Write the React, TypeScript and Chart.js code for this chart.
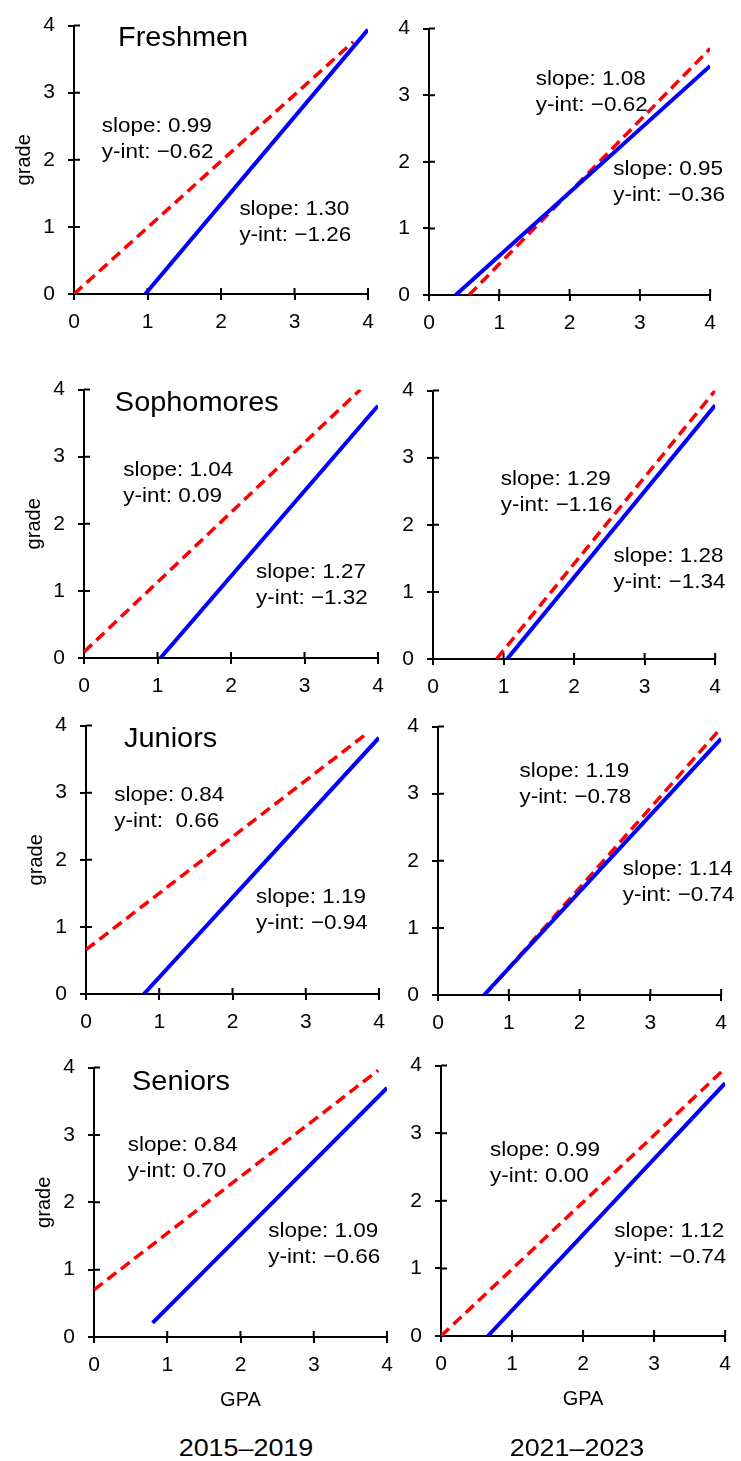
import React, { useEffect, useRef } from "react";
import { Chart, registerables } from "chart.js";

Chart.register(...registerables);

// ---------------- data ----------------
const cohorts = ["Freshmen", "Sophomores", "Juniors", "Seniors"];
const periods = ["2015–2019", "2021–2023"];
const tickValues = [0, 1, 2, 3, 4];
const xAxisLabel = "GPA";
const yAxisLabel = "grade";

// panel order: row by row; left column = 2015–2019, right column = 2021–2023
const redStart = [[0, 0], [0.57, 0], [0, 0.09], [0.9, 0], [0, 0.66], [0.66, 0], [0, 0.7], [0, 0]];
const redEnd = [[3.8, 3.76], [4, 3.7], [3.76, 4.0], [4, 4.0], [3.83, 3.88], [4, 3.98], [3.88, 3.96], [4, 3.96]];
const blueStart = [[0.97, 0], [0.38, 0], [1.04, 0], [1.05, 0], [0.79, 0], [0.65, 0], [0.8, 0.21], [0.66, 0]];
const blueEnd = [[4, 3.94], [4, 3.44], [4, 3.76], [4, 3.78], [4, 3.82], [4, 3.82], [4, 3.7], [4, 3.74]];

const redSlope = ["0.99", "1.08", "1.04", "1.29", "0.84", "1.19", "0.84", "0.99"];
const redIntercept = ["−0.62", "−0.62", "0.09", "−1.16", " 0.66", "−0.78", "0.70", "0.00"];
const blueSlope = ["1.30", "0.95", "1.27", "1.28", "1.19", "1.14", "1.09", "1.12"];
const blueIntercept = ["−1.26", "−0.36", "−1.32", "−1.34", "−0.94", "−0.74", "−0.66", "−0.74"];

// ---------------- layout ----------------
const FONT = "'Liberation Sans', Arial, Helvetica, sans-serif";
const STRETCH = 1.07;
const Y_AXIS_W = 62;
const TOP_PAD = 20;

const PANEL_BOX = [
  { x0: 74, x4: 368, y4: 20, y0: 294 },
  { x0: 429, x4: 720, y4: 23, y0: 295 },
  { x0: 84, x4: 378, y4: 384, y0: 658 },
  { x0: 433, x4: 725, y4: 385, y0: 659 },
  { x0: 86, x4: 379, y4: 720, y0: 994 },
  { x0: 438, x4: 731, y4: 721, y0: 995 },
  { x0: 94, x4: 387, y4: 1062, y0: 1337 },
  { x0: 441, x4: 735, y4: 1060, y0: 1336 },
];
const TITLE_POS = [[0.6, 3.7], null, [0.42, 3.68], null, [0.52, 3.68], null, [0.52, 3.67], null];
const RED_LABEL_POS = [[0.377, 2.42], [1.52, 3.15], [0.535, 2.71], [0.96, 2.59], [0.386, 2.87], [1.15, 3.25], [0.46, 2.76], [0.69, 2.66]];
const BLUE_LABEL_POS = [[2.25, 1.18], [2.62, 1.8], [2.34, 1.19], [2.56, 1.45], [2.32, 1.35], [2.61, 1.79], [2.38, 1.49], [2.44, 1.46]];
const PERIOD_CENTER = [246, 577];

// ---------------- plugins ----------------
const innerTicksPlugin = {
  id: "innerTicks",
  beforeDatasetsDraw(chart: any) {
    const { ctx, chartArea, scales } = chart;
    ctx.save();
    ctx.strokeStyle = "#000";
    ctx.lineWidth = 2;
    ctx.beginPath();
    for (const v of tickValues) {
      const px = scales.x.getPixelForValue(v);
      ctx.moveTo(px, chartArea.bottom);
      ctx.lineTo(px, chartArea.bottom - 6);
      const py = scales.y.getPixelForValue(v);
      ctx.moveTo(chartArea.left, py);
      ctx.lineTo(chartArea.left + 6, py);
    }
    ctx.stroke();
    ctx.restore();
  },
};

const panelTextPlugin = {
  id: "panelText",
  afterDatasetsDraw(chart: any, _args: any, opts: any) {
    const { ctx, scales } = chart;
    const drawLines = (lines: string[], pos: number[] | null, size: number) => {
      if (!pos) return;
      const px = scales.x.getPixelForValue(pos[0]);
      const py = scales.y.getPixelForValue(pos[1]);
      ctx.save();
      ctx.translate(px, py);
      ctx.scale(STRETCH, 1);
      ctx.fillStyle = "#000";
      ctx.font = `${size}px ${FONT}`;
      ctx.textAlign = "left";
      ctx.textBaseline = "alphabetic";
      lines.forEach((t, i) => ctx.fillText(t, 0, i * 26));
      ctx.restore();
    };
    if (opts.title) drawLines([opts.title], opts.titlePos, 27);
    drawLines(opts.red, opts.redPos, 21);
    drawLines(opts.blue, opts.bluePos, 21);
  },
};

function panelConfig(i: number) {
  const col = i % 2;
  const row = Math.floor(i / 2);
  const bottomRow = row === 3;
  const leftCol = col === 0;
  const xH = bottomRow ? 80 : 44;
  const rightPad = leftCol ? 16 : 6;
  const axisCommon = {
    type: "linear" as const,
    min: 0,
    max: 4,
    afterBuildTicks: (s: any) => {
      s.ticks = tickValues.map((v) => ({ value: v }));
    },
    grid: {
      drawOnChartArea: false,
      drawTicks: true,
      tickLength: 6,
      color: "#000",
      lineWidth: 2,
      tickWidth: 2,
    },
    border: { display: true, color: "#000", width: 2 },
  };
  return {
    type: "scatter" as const,
    data: {
      datasets: [
        {
          data: [
            { x: blueStart[i][0], y: blueStart[i][1] },
            { x: blueEnd[i][0], y: blueEnd[i][1] },
          ],
          borderColor: "#0000ff",
          borderWidth: 4,
          showLine: true,
          pointRadius: 0,
          borderCapStyle: "butt",
        },
        {
          data: [
            { x: redStart[i][0], y: redStart[i][1] },
            { x: redEnd[i][0], y: redEnd[i][1] },
          ],
          borderColor: "#ff0000",
          borderWidth: 3.5,
          borderDash: [11, 6],
          showLine: true,
          pointRadius: 0,
          borderCapStyle: "butt",
        },
      ],
    },
    options: {
      animation: false,
      responsive: false,
      maintainAspectRatio: false,
      events: [],
      layout: { padding: { top: TOP_PAD, right: rightPad, left: 0, bottom: 0 } },
      plugins: {
        legend: { display: false },
        tooltip: { enabled: false },
        panelText: {
          title: leftCol ? cohorts[row] : "",
          titlePos: TITLE_POS[i],
          red: [`slope: ${redSlope[i]}`, `y-int: ${redIntercept[i]}`],
          redPos: RED_LABEL_POS[i],
          blue: [`slope: ${blueSlope[i]}`, `y-int: ${blueIntercept[i]}`],
          bluePos: BLUE_LABEL_POS[i],
        },
      },
      scales: {
        x: {
          ...axisCommon,
          position: "bottom",
          ticks: { font: { size: 21, family: FONT }, color: "#000", padding: 10 },
          title: {
            display: bottomRow,
            text: xAxisLabel,
            color: "#000",
            font: { size: 20, family: FONT },
            padding: { top: 0, bottom: 5 },
          },
          afterFit: (s: any) => {
            s.height = xH;
          },
        },
        y: {
          ...axisCommon,
          position: "left",
          ticks: { font: { size: 21, family: FONT }, color: "#000", padding: 13 },
          title: {
            display: leftCol,
            text: yAxisLabel,
            color: "#000",
            font: { size: 20, family: FONT },
            padding: { top: 0, bottom: 0 },
          },
          afterFit: (s: any) => {
            s.width = Y_AXIS_W;
          },
        },
      },
    },
    plugins: [innerTicksPlugin, panelTextPlugin],
  };
}

function canvasBox(i: number) {
  const b = PANEL_BOX[i];
  const row = Math.floor(i / 2);
  const leftCol = i % 2 === 0;
  const xH = row === 3 ? 80 : 44;
  const rightPad = leftCol ? 16 : 6;
  return {
    left: b.x0 - Y_AXIS_W,
    top: b.y4 - TOP_PAD,
    width: b.x4 - b.x0 + Y_AXIS_W + rightPad,
    height: b.y0 - b.y4 + TOP_PAD + xH,
  };
}

function Panel({ index }: { index: number }) {
  const ref = useRef<HTMLCanvasElement | null>(null);
  useEffect(() => {
    if (!ref.current) return;
    const chart = new Chart(ref.current, panelConfig(index) as any);
    return () => chart.destroy();
  }, [index]);
  const box = canvasBox(index);
  return (
    <canvas
      ref={ref}
      width={box.width}
      height={box.height}
      style={{
        position: "absolute",
        left: box.left,
        top: box.top,
        width: box.width,
        height: box.height,
      }}
    />
  );
}

export default function App() {
  return (
    <div
      style={{
        position: "absolute",
        left: 0,
        top: 0,
        width: 741,
        height: 1461,
        overflow: "hidden",
        background: "#fff",
      }}
    >
      {PANEL_BOX.map((_, i) => (
        <Panel key={i} index={i} />
      ))}
      {periods.map((p, i) => (
        <div
          key={p}
          style={{
            position: "absolute",
            left: PERIOD_CENTER[i] - 150,
            top: 1436,
            width: 300,
            textAlign: "center",
            fontFamily: FONT,
            fontSize: 24,
            lineHeight: "24px",
            color: "#000",
            transform: `scaleX(${1.12})`,
            transformOrigin: "center",
          }}
        >
          {p}
        </div>
      ))}
    </div>
  );
}
